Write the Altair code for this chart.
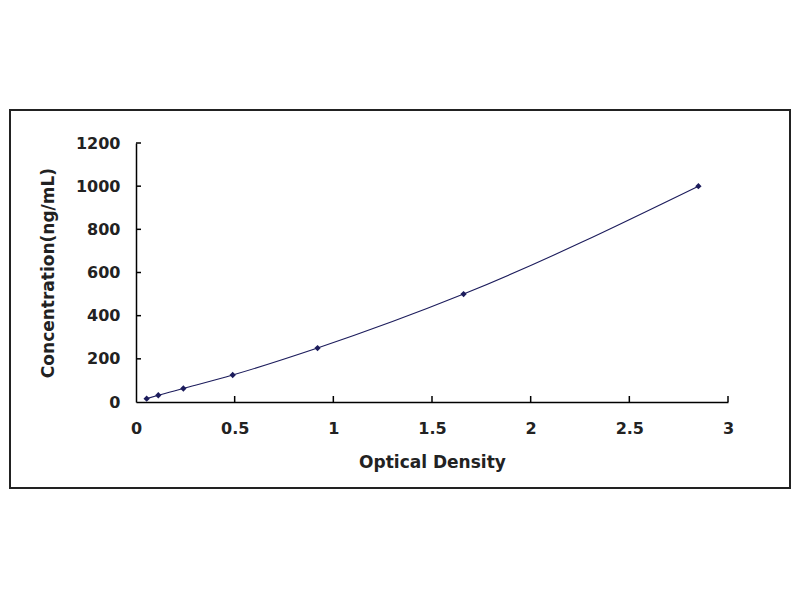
import pandas as pd
import altair as alt

# standard curve points
od = [0.054, 0.113, 0.24, 0.49, 0.92, 1.66, 2.85]
conc = [15.6, 31.25, 62.5, 125, 250, 500, 1000]

x_ticks = [0.5, 1, 1.5, 2, 2.5, 3]
y_ticks = [200, 400, 600, 800, 1000, 1200]

df = pd.DataFrame({'od': od, 'conc': conc})
xt = pd.DataFrame({'od': x_ticks})
yt = pd.DataFrame({'conc': y_ticks})

W, H = 592, 259
navy = '#1c1c5c'

xscale = alt.Scale(domain=[0, 3], nice=False, zero=True)
yscale = alt.Scale(domain=[0, 1200], nice=False)

xaxis = alt.Axis(title='Optical Density', values=[0] + x_ticks, format='~g',
                 ticks=False, labelPadding=18, titlePadding=18, grid=False,
                 labelFlush=False)
yaxis = alt.Axis(title='Concentration(ng/mL)', values=[0] + y_ticks, format='d',
                 ticks=False, labelPadding=16, titlePadding=18, grid=False,
                 labelFlush=False)

base = alt.Chart(df)

line = base.mark_line(interpolate='monotone', color=navy, strokeWidth=1.1).encode(
    x=alt.X('od:Q', scale=xscale, axis=xaxis),
    y=alt.Y('conc:Q', scale=yscale, axis=yaxis)
)

points = base.mark_point(shape='diamond', filled=True, color=navy, size=40, opacity=1).encode(
    x=alt.X('od:Q', scale=xscale, axis=xaxis),
    y=alt.Y('conc:Q', scale=yscale, axis=yaxis)
)

# inward tick marks
xtick_marks = alt.Chart(xt).mark_rule(color='black', strokeWidth=1.5).encode(
    x=alt.X('od:Q', scale=xscale, axis=xaxis),
    y=alt.value(H), y2=alt.value(H - 6)
)
ytick_marks = alt.Chart(yt).mark_rule(color='black', strokeWidth=1.5).encode(
    y=alt.Y('conc:Q', scale=yscale, axis=yaxis),
    x=alt.value(0), x2=alt.value(5)
)

# outer frame
frame = alt.Chart(pd.DataFrame({'a': [0]})).mark_rect(
    filled=False, stroke='#222', strokeWidth=2
).encode(
    x=alt.value(-126), x2=alt.value(654),
    y=alt.value(-33), y2=alt.value(345)
)

chart = alt.layer(line, points, xtick_marks, ytick_marks, frame).properties(
    width=W, height=H,
    autosize=alt.AutoSizeParams(type='none'),
    padding={'left': 128, 'top': 135, 'right': 64, 'bottom': 190}
).configure_axis(
    domainColor='black',
    domainWidth=1.5,
    labelFont='DejaVu Sans',
    labelFontWeight='bold',
    labelFontSize=16,
    labelColor='#222',
    titleFont='DejaVu Sans',
    titleFontWeight='bold',
    titleFontSize=17,
    titleColor='#222'
).configure_view(
    strokeWidth=0
)

chart.save('out.html', embed_options={'renderer': 'svg', 'actions': False})
